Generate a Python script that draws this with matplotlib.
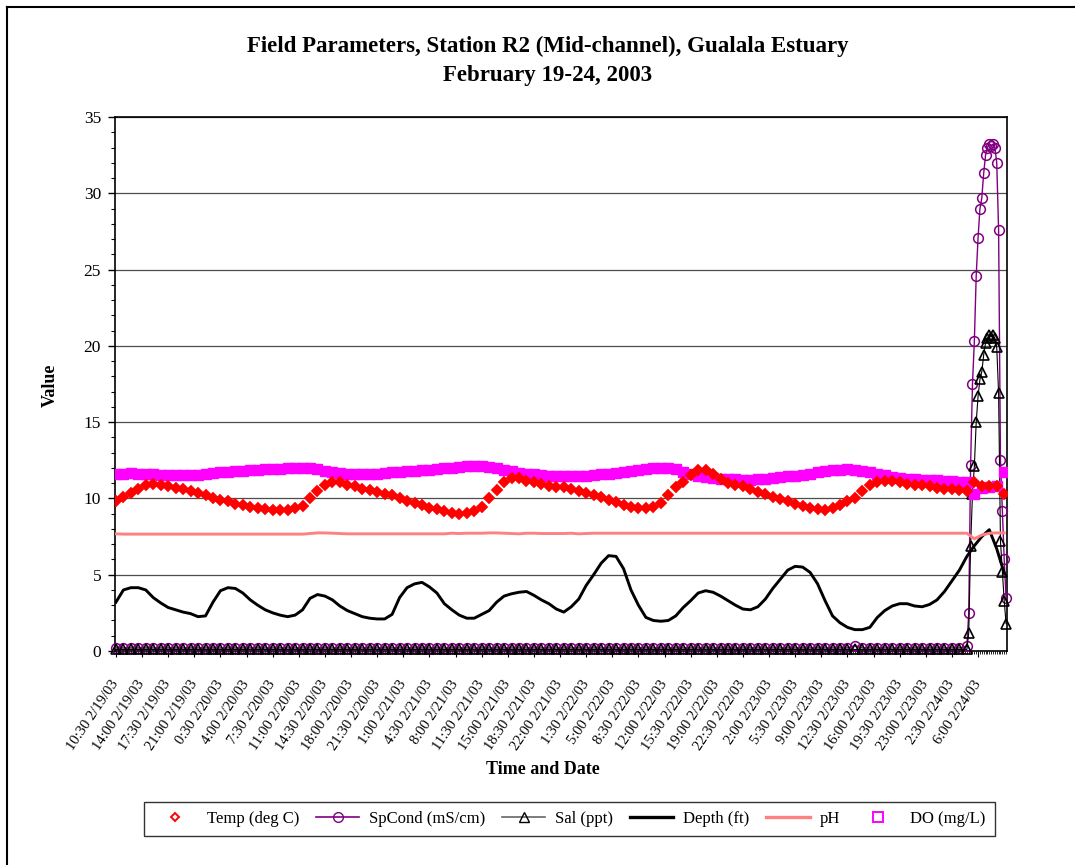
import matplotlib
matplotlib.use("Agg")
import matplotlib.pyplot as plt
from matplotlib.lines import Line2D
from matplotlib.ticker import MultipleLocator, FixedLocator

plt.rcParams['font.family'] = ['Liberation Serif', 'DejaVu Serif']

# readings every hour from 10:30 2/19/03 (axis categories are 15 min apart)
temp = [9.85, 10.1, 10.35, 10.6, 10.85, 10.95, 10.9, 10.8, 10.7, 10.6,
        10.5, 10.35, 10.2, 10.05, 9.9, 9.8, 9.65, 9.55, 9.45, 9.35,
        9.3, 9.25, 9.25, 9.25, 9.35, 9.5, 10.0, 10.5, 10.9, 11.05,
        11.05, 10.9, 10.8, 10.65, 10.55, 10.45, 10.3, 10.2, 10.05, 9.85,
        9.7, 9.55, 9.4, 9.3, 9.15, 9.05, 9.0, 9.05, 9.2, 9.45,
        10.0, 10.55, 11.05, 11.35, 11.35, 11.15, 11.05, 10.95, 10.8, 10.75,
        10.75, 10.6, 10.5, 10.35, 10.25, 10.1, 9.9, 9.75, 9.6, 9.45,
        9.35, 9.35, 9.45, 9.7, 10.2, 10.75, 11.1, 11.55, 11.85, 11.85,
        11.6, 11.25, 11.0, 10.85, 10.8, 10.6, 10.45, 10.3, 10.1, 9.95,
        9.8, 9.65, 9.5, 9.4, 9.3, 9.25, 9.35, 9.55, 9.8, 10.05,
        10.5, 10.85, 11.1, 11.15, 11.15, 11.05, 10.95, 10.9, 10.85, 10.8,
        10.7, 10.65, 10.6, 10.55, 10.5, 11.1, 10.8, 10.8, 10.8, 10.3]

depth = [3.2, 4.0, 4.15, 4.15, 4.0, 3.5, 3.15, 2.85, 2.7, 2.55,
         2.45, 2.25, 2.3, 3.2, 3.95, 4.15, 4.1, 3.8, 3.35, 3.0,
         2.7, 2.5, 2.35, 2.25, 2.35, 2.7, 3.45, 3.7, 3.6, 3.35,
         2.95, 2.65, 2.45, 2.25, 2.15, 2.1, 2.1, 2.4, 3.5, 4.15,
         4.4, 4.5, 4.2, 3.8, 3.1, 2.7, 2.35, 2.15, 2.15, 2.4,
         2.65, 3.2, 3.6, 3.75, 3.85, 3.9, 3.65, 3.35, 3.1, 2.75,
         2.55, 2.9, 3.4, 4.3, 5.0, 5.75, 6.25, 6.2, 5.4, 4.0,
         3.0, 2.2, 2.0, 1.95, 2.0, 2.3, 2.85, 3.3, 3.8, 3.95,
         3.85, 3.6, 3.3, 3.0, 2.75, 2.7, 2.9, 3.4, 4.1, 4.7,
         5.3, 5.55, 5.5, 5.15, 4.4, 3.3, 2.3, 1.85, 1.55, 1.4,
         1.4, 1.55, 2.2, 2.65, 2.95, 3.1, 3.1, 2.95, 2.9, 3.05,
         3.35, 3.9, 4.6, 5.3, 6.2, 6.9, 7.5, 7.95, 6.7, 5.1]

ph = [7.68, 7.66, 7.66, 7.66, 7.66, 7.66, 7.66, 7.66, 7.66, 7.66,
      7.66, 7.66, 7.66, 7.66, 7.66, 7.66, 7.66, 7.66, 7.66, 7.66,
      7.66, 7.66, 7.66, 7.66, 7.66, 7.66, 7.7, 7.74, 7.74, 7.72,
      7.7, 7.68, 7.68, 7.68, 7.68, 7.68, 7.68, 7.68, 7.68, 7.68,
      7.68, 7.68, 7.68, 7.68, 7.68, 7.72, 7.7, 7.72, 7.72, 7.72,
      7.74, 7.74, 7.72, 7.7, 7.68, 7.72, 7.72, 7.7, 7.7, 7.7,
      7.7, 7.72, 7.68, 7.7, 7.72, 7.72, 7.72, 7.72, 7.72, 7.72,
      7.72, 7.72, 7.72, 7.72, 7.72, 7.72, 7.72, 7.72, 7.72, 7.72,
      7.72, 7.72, 7.72, 7.72, 7.72, 7.72, 7.72, 7.72, 7.72, 7.72,
      7.72, 7.72, 7.72, 7.72, 7.72, 7.72, 7.72, 7.72, 7.72, 7.72,
      7.72, 7.72, 7.72, 7.72, 7.72, 7.72, 7.72, 7.72, 7.72, 7.72,
      7.72, 7.72, 7.72, 7.72, 7.72, 7.35, 7.6, 7.72, 7.74, 7.74]

do = [11.6, 11.62, 11.64, 11.62, 11.6, 11.57, 11.55, 11.53, 11.52, 11.52,
      11.53, 11.55, 11.6, 11.65, 11.7, 11.75, 11.8, 11.82, 11.85, 11.88,
      11.9, 11.93, 11.96, 12.0, 12.0, 12.0, 11.97, 11.9, 11.8, 11.7,
      11.65, 11.62, 11.6, 11.6, 11.6, 11.62, 11.65, 11.7, 11.75, 11.78,
      11.82, 11.85, 11.88, 11.92, 11.97, 12.02, 12.07, 12.1, 12.12, 12.1,
      12.05, 11.97, 11.88, 11.78, 11.68, 11.62, 11.57, 11.53, 11.5, 11.48,
      11.45, 11.45, 11.48, 11.5, 11.53, 11.58, 11.63, 11.68, 11.72, 11.78,
      11.85, 11.92, 12.0, 12.02, 11.98, 11.9, 11.75, 11.6, 11.5, 11.4,
      11.35, 11.3, 11.28, 11.25, 11.24, 11.24, 11.26, 11.3, 11.35, 11.4,
      11.45, 11.5, 11.55, 11.62, 11.7, 11.78, 11.85, 11.88, 11.9, 11.88,
      11.8, 11.72, 11.62, 11.52, 11.42, 11.35, 11.3, 11.27, 11.24, 11.2,
      11.18, 11.16, 11.13, 11.1, 11.05, 10.3, 10.7, 10.75, 10.8, 11.7]

# SpCond / Sal stay near zero until the salt water pulse on 2/24
spcond_low = [0.2, 0.2, 0.2, 0.2, 0.2, 0.2, 0.2, 0.2, 0.2, 0.2,
              0.2, 0.2, 0.2, 0.2, 0.2, 0.2, 0.2, 0.2, 0.2, 0.2,
              0.2, 0.2, 0.2, 0.2, 0.2, 0.2, 0.2, 0.2, 0.2, 0.2,
              0.2, 0.2, 0.2, 0.2, 0.2, 0.2, 0.2, 0.2, 0.2, 0.2,
              0.2, 0.2, 0.2, 0.2, 0.2, 0.2, 0.2, 0.2, 0.2, 0.2,
              0.2, 0.2, 0.2, 0.2, 0.2, 0.2, 0.2, 0.2, 0.2, 0.2,
              0.2, 0.2, 0.2, 0.2, 0.2, 0.2, 0.2, 0.2, 0.2, 0.2,
              0.2, 0.2, 0.2, 0.2, 0.2, 0.2, 0.2, 0.2, 0.2, 0.2,
              0.2, 0.2, 0.2, 0.2, 0.2, 0.2, 0.2, 0.2, 0.2, 0.2,
              0.2, 0.2, 0.2, 0.2, 0.2, 0.2, 0.2, 0.2, 0.2, 0.35,
              0.2, 0.2, 0.2, 0.2, 0.2, 0.2, 0.2, 0.2, 0.2, 0.2,
              0.2, 0.2, 0.2, 0.2]
sal_low = [0.1, 0.1, 0.1, 0.1, 0.1, 0.1, 0.1, 0.1, 0.1, 0.1,
           0.1, 0.1, 0.1, 0.1, 0.1, 0.1, 0.1, 0.1, 0.1, 0.1,
           0.1, 0.1, 0.1, 0.1, 0.1, 0.1, 0.1, 0.1, 0.1, 0.1,
           0.1, 0.1, 0.1, 0.1, 0.1, 0.1, 0.1, 0.1, 0.1, 0.1,
           0.1, 0.1, 0.1, 0.1, 0.1, 0.1, 0.1, 0.1, 0.1, 0.1,
           0.1, 0.1, 0.1, 0.1, 0.1, 0.1, 0.1, 0.1, 0.1, 0.1,
           0.1, 0.1, 0.1, 0.1, 0.1, 0.1, 0.1, 0.1, 0.1, 0.1,
           0.1, 0.1, 0.1, 0.1, 0.1, 0.1, 0.1, 0.1, 0.1, 0.1,
           0.1, 0.1, 0.1, 0.1, 0.1, 0.1, 0.1, 0.1, 0.1, 0.1,
           0.1, 0.1, 0.1, 0.1, 0.1, 0.1, 0.1, 0.1, 0.1, 0.1,
           0.1, 0.1, 0.1, 0.1, 0.1, 0.1, 0.1, 0.1, 0.1, 0.1,
           0.1, 0.1, 0.1, 0.1]
# 15-min readings through the pulse (categories 456..477)
spcond_pulse = [0.3, 2.5, 12.2, 17.5, 20.3, 24.6, 27.1, 29.0, 29.7, 31.3, 32.5,
                33.0, 33.2, 33.1, 33.2, 33.0, 32.0, 27.6, 12.5, 9.2, 6.0, 3.5]
sal_pulse = [0.1, 1.2, 6.9, 10.3, 12.1, 15.0, 16.7, 17.8, 18.3, 19.4, 20.2,
             20.5, 20.7, 20.6, 20.7, 20.5, 19.9, 16.9, 7.2, 5.2, 3.3, 1.8]
pulse_start = 456
n_categories = 478

tick_labels = ['10:30 2/19/03', '14:00 2/19/03', '17:30 2/19/03', '21:00 2/19/03',
               '0:30 2/20/03', '4:00 2/20/03', '7:30 2/20/03', '11:00 2/20/03',
               '14:30 2/20/03', '18:00 2/20/03', '21:30 2/20/03', '1:00 2/21/03',
               '4:30 2/21/03', '8:00 2/21/03', '11:30 2/21/03', '15:00 2/21/03',
               '18:30 2/21/03', '22:00 2/21/03', '1:30 2/22/03', '5:00 2/22/03',
               '8:30 2/22/03', '12:00 2/22/03', '15:30 2/22/03', '19:00 2/22/03',
               '22:30 2/22/03', '2:00 2/23/03', '5:30 2/23/03', '9:00 2/23/03',
               '12:30 2/23/03', '16:00 2/23/03', '19:30 2/23/03', '23:00 2/23/03',
               '2:30 2/24/03', '6:00 2/24/03']
label_step = 14  # one label every 3.5 hours

hour_x = [4 * h for h in range(len(temp))]
low_x = [4 * h for h in range(len(spcond_low))]
pulse_x = [pulse_start + k for k in range(len(spcond_pulse))]
sp_x = low_x + pulse_x
sp_y = spcond_low + spcond_pulse
sal_y = sal_low + sal_pulse

fig = plt.figure(figsize=(10.75, 8.65), dpi=100)
ax = fig.add_axes([115 / 1075, 1 - 651 / 865, 892 / 1075, 534 / 865])

# markers sitting on the zero line are not cut off by the plot area
ax.plot(sp_x, sp_y, color='#800080', lw=1, marker='o', ms=7, mfc='none',
        mec='#800080', mew=1.1, zorder=3, clip_on=False)
ax.plot(sp_x, sal_y, color='black', lw=0.8, marker='^', ms=7, mfc='none',
        mec='black', mew=1.2, zorder=4, clip_on=False)
ax.plot(hour_x, depth, color='black', lw=2.1, zorder=5)
ax.plot(hour_x, ph, color='#FF8080', lw=2.1, zorder=5)
ax.plot(hour_x, do, ls='none', marker='s', ms=6.8, mfc='#FF00FF',
        mec='#FF00FF', mew=1, zorder=6)
ax.plot(hour_x, temp, ls='none', marker='D', ms=4.8, mfc='#FF0000',
        mec='#FF0000', mew=1.3, zorder=7)

ax.set_xlim(-0.5, n_categories - 0.5)
ax.set_ylim(0, 35)
ax.yaxis.set_major_locator(MultipleLocator(5))
ax.yaxis.set_minor_locator(MultipleLocator(1))
ax.xaxis.set_major_locator(FixedLocator([label_step * i for i in range(len(tick_labels))]))
ax.xaxis.set_minor_locator(MultipleLocator(1))
ax.set_xticklabels(tick_labels, rotation=56, ha='right', va='center',
                   rotation_mode='anchor', fontsize=10.5)
ax.tick_params(axis='y', which='major', direction='out', length=5, width=1,
               labelsize=12.5, pad=5)
ax.tick_params(axis='y', which='minor', direction='out', length=3, width=0.8)
ax.tick_params(axis='x', which='major', direction='out', length=4, width=0.8, pad=18)
ax.tick_params(axis='x', which='minor', direction='out', length=2.5, width=0.6)
ax.yaxis.grid(True, which='major', color='0.3', lw=0.9)
ax.set_axisbelow(True)
for s in ax.spines.values():
    s.set_linewidth(1.2)
    s.set_color('black')

fig.text(548 / 1075, 1 - 46 / 865, 'Field Parameters, Station R2 (Mid-channel), Gualala Estuary',
         ha='center', va='center', fontsize=16.5, fontweight='bold')
fig.text(548 / 1075, 1 - 76 / 865, 'February 19-24, 2003',
         ha='center', va='center', fontsize=16.5, fontweight='bold')
fig.text(50 / 1075, 1 - 385 / 865, 'Value', rotation=90, ha='center', va='center',
         fontsize=13, fontweight='bold')
fig.text(543 / 1075, 1 - 770 / 865, 'Time and Date', ha='center', va='center',
         fontsize=13, fontweight='bold')

handles = [
    Line2D([], [], ls='none', marker='D', ms=4.5, mfc='none', mec='#FF0000', mew=1.4),
    Line2D([], [], color='#800080', lw=1.2, marker='o', ms=7, mfc='none', mec='#800080'),
    Line2D([], [], color='#666666', lw=1.2, marker='^', ms=7, mfc='none', mec='black'),
    Line2D([], [], color='black', lw=2.4),
    Line2D([], [], color='#FF8080', lw=2.4),
    Line2D([], [], ls='none', marker='s', ms=6.5, mfc='none', mec='#FF00FF', mew=1.4),
]
labels = ['Temp (deg C)', 'SpCond (mS/cm)', 'Sal (ppt)', 'Depth (ft)', 'pH', 'DO (mg/L)']
leg = fig.legend(handles, labels, ncol=6, loc='center',
                 bbox_to_anchor=(569.5 / 1075, 1 - 819 / 865), frameon=True,
                 fancybox=False, edgecolor='black', fontsize=12, handlelength=2.6,
                 columnspacing=1.0, borderpad=0.55, handletextpad=0.6)
leg.get_frame().set_linewidth(1)

# outer chart border (top and left edges visible)
fig.add_artist(Line2D([7 / 1075, 7 / 1075], [0, 1 - 7 / 865], color='black', lw=1.5,
                      transform=fig.transFigure))
fig.add_artist(Line2D([7 / 1075, 1], [1 - 7 / 865, 1 - 7 / 865], color='black', lw=1.5,
                      transform=fig.transFigure))

fig.savefig('out.png', dpi=100)
